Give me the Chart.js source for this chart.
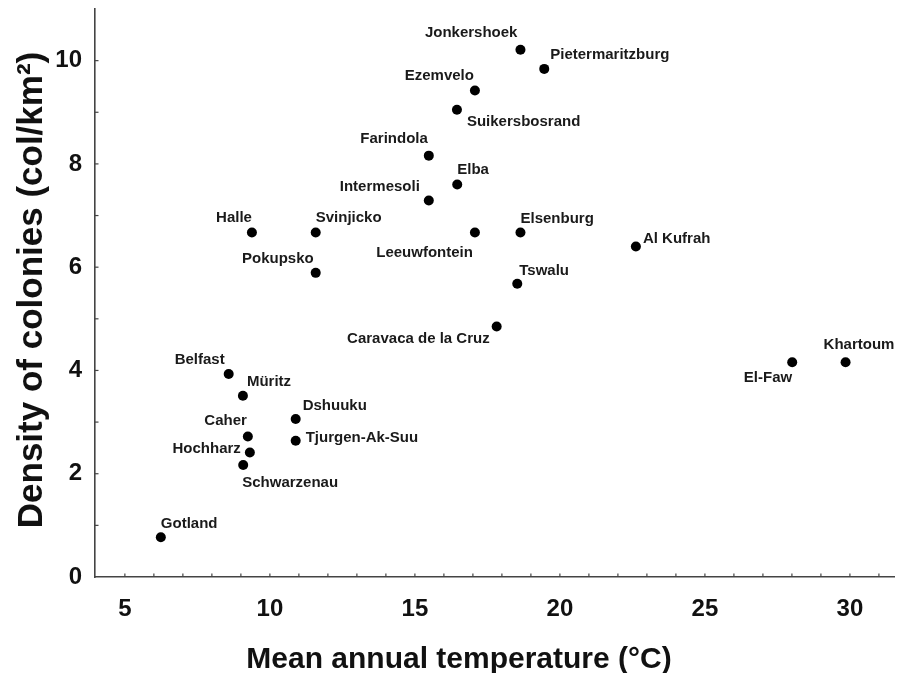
<!DOCTYPE html>
<html>
<head>
<meta charset="utf-8">
<script src="https://cdn.jsdelivr.net/npm/chart.js@4.4.1/dist/chart.umd.min.js"></script>
<style>
html,body{margin:0;padding:0;background:#fff;}
#wrap{width:899px;height:673px;}
</style>
</head>
<body>
<div id="wrap"><canvas id="c" width="899" height="673"></canvas></div>
<script>
// ---- data ----
const sites = ["Jonkershoek","Pietermaritzburg","Ezemvelo","Suikersbosrand","Farindola","Elba","Intermesoli","Halle","Svinjicko","Leeuwfontein","Elsenburg","Pokupsko","Tswalu","Caravaca de la Cruz","Al Kufrah","Khartoum","El-Faw","Belfast","Müritz","Dshuuku","Caher","Tjurgen-Ak-Suu","Hochharz","Schwarzenau","Gotland"];
const temperature = [18.64,19.46,17.07,16.45,15.48,16.46,15.48,9.38,11.58,17.07,18.64,11.58,18.53,17.82,22.62,29.85,28.01,8.58,9.07,10.89,9.24,10.89,9.31,9.08,6.24];
const density = [10.21,9.84,9.42,9.05,8.16,7.60,7.29,6.67,6.67,6.67,6.67,5.89,5.68,4.85,6.40,4.16,4.16,3.93,3.51,3.06,2.72,2.64,2.41,2.17,0.77];
const xTickValues = [5,10,15,20,25,30];
const yTickValues = [0,2,4,6,8,10];
const xMinorTicks = [4,5,6,7,8,9,10,11,12,13,14,15,16,17,18,19,20,21,22,23,24,25,26,27,28,29,30,31];
const yMinorTicks = [1,2,3,4,5,6,7,8,9,10];
const xTitle = "Mean annual temperature (°C)";
const yTitle = "Density of colonies (col/km²)";

// label placement (align, dx, dy in px relative to the dot)
const labelPlace = [
  ["right",-3,-17],["left",6,-14],["right",-1,-15],["left",10,12],["right",-1,-17],
  ["left",0,-15],["right",-9,-14],["right",0,-15],["left",0,-15],["right",-2,20],
  ["left",0,-14],["right",-2,-14],["left",2,-13],["right",-7,12],["left",7,-8],
  ["left",-22,-17],["right",0,16],["right",-4,-14],["left",4,-14],["left",7,-13],
  ["right",-1,-16],["left",10,-3],["right",-9,-4],["left",-1,18],["left",0,-13]
];

const FONT = "'Liberation Sans', Arial, Helvetica, sans-serif";

const points = temperature.map((t,i)=>({x:t,y:density[i]}));

const decoPlugin = {
  id:'deco',
  afterDatasetsDraw(chart){
    const ctx = chart.ctx;
    const xs = chart.scales.x, ys = chart.scales.y;
    const ca = chart.chartArea;
    ctx.save();
    // inner minor ticks
    ctx.strokeStyle = '#444';
    ctx.lineWidth = 1.2;
    xMinorTicks.forEach(v=>{
      const px = xs.getPixelForValue(v);
      if(px < ca.left+1 || px > ca.right) return;
      ctx.beginPath(); ctx.moveTo(px, ca.bottom); ctx.lineTo(px, ca.bottom-3.5); ctx.stroke();
    });
    yMinorTicks.forEach(v=>{
      const py = ys.getPixelForValue(v);
      ctx.beginPath(); ctx.moveTo(ca.left, py); ctx.lineTo(ca.left+3.5, py); ctx.stroke();
    });
    // point labels
    const meta = chart.getDatasetMeta(0);
    ctx.fillStyle = '#1a1a1a';
    ctx.font = "bold 15px " + FONT;
    ctx.textBaseline = 'middle';
    meta.data.forEach((el,i)=>{
      const p = labelPlace[i];
      ctx.textAlign = p[0];
      ctx.fillText(sites[i], el.x + p[1], el.y + p[2]);
    });
    // axis titles
    ctx.fillStyle = '#111';
    ctx.font = "bold 30px " + FONT;
    ctx.textAlign = 'center';
    ctx.textBaseline = 'alphabetic';
    ctx.fillText(xTitle, 459, 668);
    ctx.translate(42, 290);
    ctx.rotate(-Math.PI/2);
    ctx.font = "bold 35px " + FONT;
    ctx.fillText(yTitle, 0, 0);
    ctx.restore();
  }
};

new Chart(document.getElementById('c'), {
  type:'scatter',
  data:{datasets:[{
    data:points,
    backgroundColor:'#000',
    borderWidth:0,
    pointRadius:5,
    pointHoverRadius:5
  }]},
  options:{
    responsive:false,
    animation:false,
    events:[],
    layout:{padding:{top:9,right:0,left:0,bottom:0}},
    plugins:{legend:{display:false},tooltip:{enabled:false}},
    scales:{
      x:{
        type:'linear', min:3.97, max:31.52,
        afterBuildTicks(s){ s.ticks = xTickValues.map(v=>({value:v})); },
        afterFit(s){ s.height = 96; s.paddingLeft = 0; s.paddingRight = 0; },
        grid:{display:true, drawOnChartArea:false, drawTicks:false},
        border:{display:true,color:'#444',width:1.6},
        ticks:{padding:18,color:'#111',maxRotation:0,autoSkip:false,font:{family:FONT,size:24,weight:'bold'}}
      },
      y:{
        type:'linear', min:0, max:11,
        afterBuildTicks(s){ s.ticks = yTickValues.map(v=>({value:v})); },
        afterFit(s){ s.width = 95; s.paddingTop = 0; s.paddingBottom = 0; },
        grid:{display:true, drawOnChartArea:false, drawTicks:false},
        border:{display:true,color:'#444',width:1.6},
        ticks:{padding:13,color:'#111',autoSkip:false,font:{family:FONT,size:24,weight:'bold'}}
      }
    }
  },
  plugins:[decoPlugin]
});
</script>
</body>
</html>
